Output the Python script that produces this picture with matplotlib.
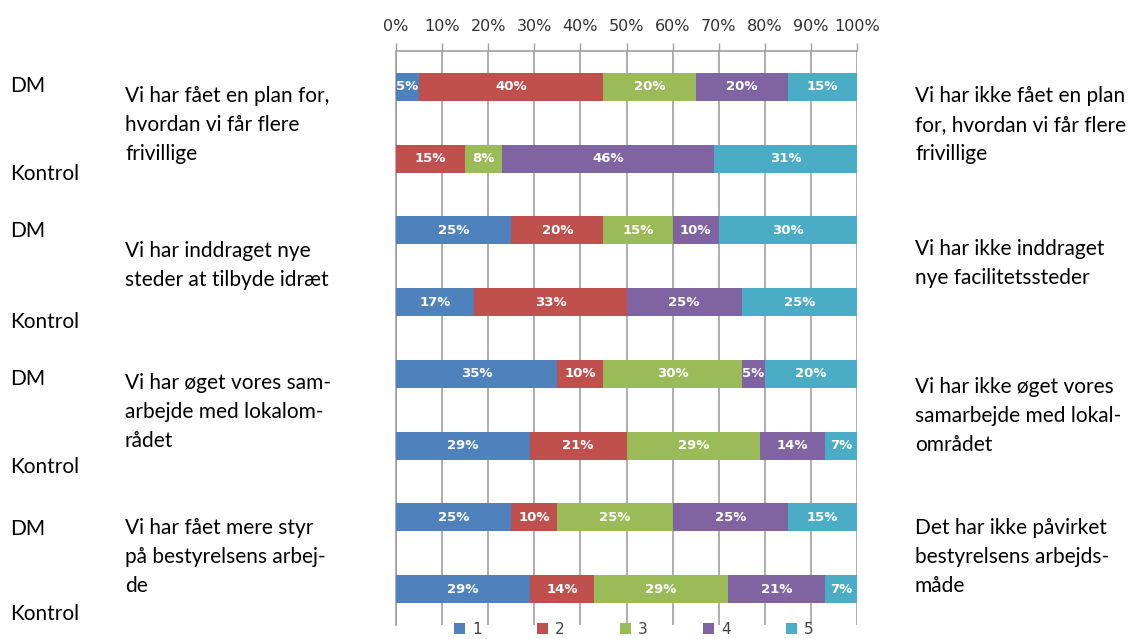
import numpy as np
import matplotlib.pyplot as plt

# answer shares (percent) per bar, top to bottom: DM / Kontrol for each statement
groups = ['DM', 'Kontrol', 'DM', 'Kontrol', 'DM', 'Kontrol', 'DM', 'Kontrol']
s1 = [5, 0, 25, 17, 35, 29, 25, 29]
s2 = [40, 15, 20, 33, 10, 21, 10, 14]
s3 = [20, 8, 15, 0, 30, 29, 25, 29]
s4 = [20, 46, 10, 25, 5, 14, 25, 21]
s5 = [15, 31, 30, 25, 20, 7, 15, 7]
series_names = ['1', '2', '3', '4', '5']
colors = ['#4F81BD', '#C0504D', '#9BBB59', '#8064A2', '#4BACC6']
xticks = [0, 10, 20, 30, 40, 50, 60, 70, 80, 90, 100]

left_statements = [
    'Vi har fået en plan for,\nhvordan vi får flere\nfrivillige',
    'Vi har inddraget nye\nsteder at tilbyde idræt',
    'Vi har øget vores sam-\narbejde med lokalom-\nrådet',
    'Vi har fået mere styr\npå bestyrelsens arbej-\nde',
]
right_statements = [
    'Vi har ikke fået en plan\nfor, hvordan vi får flere\nfrivillige',
    'Vi har ikke inddraget\nnye facilitetssteder',
    'Vi har ikke øget vores\nsamarbejde med lokal-\nområdet',
    'Det har ikke påvirket\nbestyrelsens arbejds-\nmåde',
]

W, H = 1138, 639
fig = plt.figure(figsize=(W / 100, H / 100), dpi=100)
ax = fig.add_axes([396 / W, 14 / H, 461 / W, 574 / H])

def fx(x):
    return x / W

def fy(y):
    return 1 - y / H

data = np.array([s1, s2, s3, s4, s5])
ypos = np.arange(len(groups))
left = np.zeros(len(groups))
handles = []
for vals, name, col in zip(data, series_names, colors):
    b = ax.barh(ypos, vals, left=left, height=0.39, color=col, label=name, zorder=3)
    handles.append(b)
    for y, v, l in zip(ypos, vals, left):
        if v > 0:
            ax.text(l + v / 2, y, f'{v}%', ha='center', va='center', color='white',
                    fontsize=9.5, fontweight='bold', zorder=4)
    left = left + vals

ax.set_xlim(0, 100)
ax.set_ylim(len(groups) - 0.5, -0.5)
ax.set_yticks([])
ax.xaxis.tick_top()
ax.set_xticks(xticks)
ax.set_xticklabels([f'{t}%' for t in xticks])
ax.tick_params(axis='x', direction='out', length=6, width=1, color='#a0a0a0',
               pad=6, labelsize=11.5, labelcolor='#303030')
ax.xaxis.grid(True, color='#a0a0a0', lw=1.2, zorder=0)
ax.set_axisbelow(True)
for side in ['bottom', 'right']:
    ax.spines[side].set_visible(False)
for side in ['top', 'left']:
    ax.spines[side].set_color('#a0a0a0')
    ax.spines[side].set_linewidth(1.2)

font = 'Lato'
fs = 15
# DM / Kontrol labels
dm_y = [86, 231, 379, 529]
ko_y = [174, 322, 467, 614]
for y in dm_y:
    fig.text(fx(10), fy(y), 'DM', ha='left', va='center', fontsize=fs, family=font)
for y in ko_y:
    fig.text(fx(10), fy(y), 'Kontrol', ha='left', va='center', fontsize=fs, family=font)

left_y = [95, 250, 382, 527]
right_y = [95, 248, 386, 527]
for s, y in zip(left_statements, left_y):
    fig.text(fx(125), fy(y - 9), s, ha='left', va='top', fontsize=fs, family=font,
             linespacing=1.55)
for s, y in zip(right_statements, right_y):
    fig.text(fx(915), fy(y - 9), s, ha='left', va='top', fontsize=fs, family=font,
             linespacing=1.55)

fig.legend(handles, series_names, loc='center', bbox_to_anchor=(fx(634), fy(629)),
           ncol=5, frameon=False, handlelength=0.7, handleheight=0.7,
           handletextpad=0.5, columnspacing=3.6, fontsize=11,
           labelcolor='#404040')

fig.savefig('out.png', dpi=100)
